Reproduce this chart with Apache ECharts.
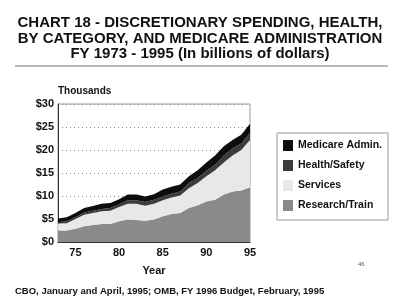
<!DOCTYPE html>
<html><head><meta charset="utf-8">
<script src="https://cdn.jsdelivr.net/npm/echarts@6/dist/echarts.min.js"></script>
<style>html,body{margin:0;padding:0;background:#fff}#c{width:400px;height:306px}</style>
</head><body><div id="c"></div>
<script>
const years = ['73','74','75','76','77','78','79','80','81','82','83','84','85','86','87','88','89','90','91','92','93','94','95'];
const researchTrain = [2.5,2.5,2.9,3.4,3.7,3.9,3.9,4.5,4.9,4.8,4.6,4.9,5.6,6.1,6.3,7.4,8.0,8.8,9.2,10.3,11.0,11.2,11.9];
const services = [1.5,1.6,2.1,2.5,2.6,2.8,2.9,3.1,3.4,3.5,3.3,3.4,3.5,3.6,3.8,4.3,4.8,5.5,6.4,7.0,7.8,8.8,10.3];
const healthSafety = [0.3,0.4,0.4,0.5,0.5,0.5,0.6,0.6,0.8,0.8,0.8,0.9,0.8,0.8,0.9,1.1,1.1,1.2,1.2,1.5,1.5,1.4,1.5];
const medicareAdmin = [0.8,0.9,0.9,1.0,1.0,1.1,1.1,1.1,1.2,1.2,1.2,1.2,1.5,1.5,1.5,1.5,1.7,1.8,2.0,2.0,1.9,1.9,2.0];
const yTicks = [0,5,10,15,20,25,30];

const F = 'Liberation Sans, Arial, sans-serif';
const chart = echarts.init(document.getElementById('c'), null, {renderer:'canvas'});
function area(name, data, color){
  return {name, type:'line', stack:'t', data, symbol:'none', smooth:false,
    lineStyle:{width:0, color}, itemStyle:{color}, areaStyle:{color, opacity:1}};
}
chart.setOption({
  backgroundColor:'#fff',
  animation:false,
  title:{
    text:'CHART 18 - DISCRETIONARY SPENDING, HEALTH,\nBY CATEGORY, AND MEDICARE ADMINISTRATION\nFY 1973 - 1995 (In billions of dollars)',
    left:'center', top:10,
    textStyle:{fontFamily:F, fontWeight:'bold', fontSize:15, color:'#111', lineHeight:15.7}
  },
  graphic:[
    {type:'line', shape:{x1:15,y1:66,x2:388,y2:66}, style:{stroke:'#777', lineWidth:1}},
    {type:'text', left:58, top:86, style:{text:'Thousands', font:'bold 10px '+F, fill:'#111'}},
    {type:'text', left:15, top:286, style:{text:'CBO, January and April, 1995; OMB, FY 1996 Budget, February, 1995', font:'bold 9.5px '+F, fill:'#111'}},
    {type:'text', left:358, top:261, style:{text:'46', font:'6px '+F, fill:'#555'}}
  ],
  legend:{
    orient:'vertical', left:277, top:133, width:111,
    data:['Medicare Admin.','Health/Safety','Services','Research/Train'],
    icon:'rect', itemWidth:10, itemHeight:11, itemGap:9,
    borderColor:'#999', borderWidth:1, padding:[7,6,9,6],
    textStyle:{fontFamily:F, fontWeight:'bold', fontSize:10.5, color:'#111'}
  },
  grid:{left:58, right:150, top:104, bottom:64, show:true, borderColor:'#999', borderWidth:1},
  xAxis:{
    type:'category', data:years, boundaryGap:false,
    name:'Year', nameLocation:'middle', nameGap:23,
    nameTextStyle:{fontFamily:F, fontWeight:'bold', fontSize:11, color:'#111'},
    axisLine:{lineStyle:{color:'#333'}}, axisTick:{show:false},
    axisLabel:{interval:(i,v)=>(+v)%5===0, fontFamily:F, fontWeight:'bold', fontSize:11, color:'#111', margin:5},
    splitLine:{show:false}
  },
  yAxis:{
    type:'value', min:0, max:30, interval:5,
    axisLine:{show:true, lineStyle:{color:'#333'}}, axisTick:{show:false},
    axisLabel:{formatter:v=>'$'+v, fontFamily:F, fontWeight:'bold', fontSize:11, color:'#111', margin:4},
    splitLine:{show:true, lineStyle:{type:[1,3], color:'#888'}}
  },
  series:[
    area('Research/Train', researchTrain, '#8a8a8a'),
    area('Services', services, '#e8e8e8'),
    area('Health/Safety', healthSafety, '#3c3c3c'),
    area('Medicare Admin.', medicareAdmin, '#0d0d0d')
  ]
});
</script></body></html>
